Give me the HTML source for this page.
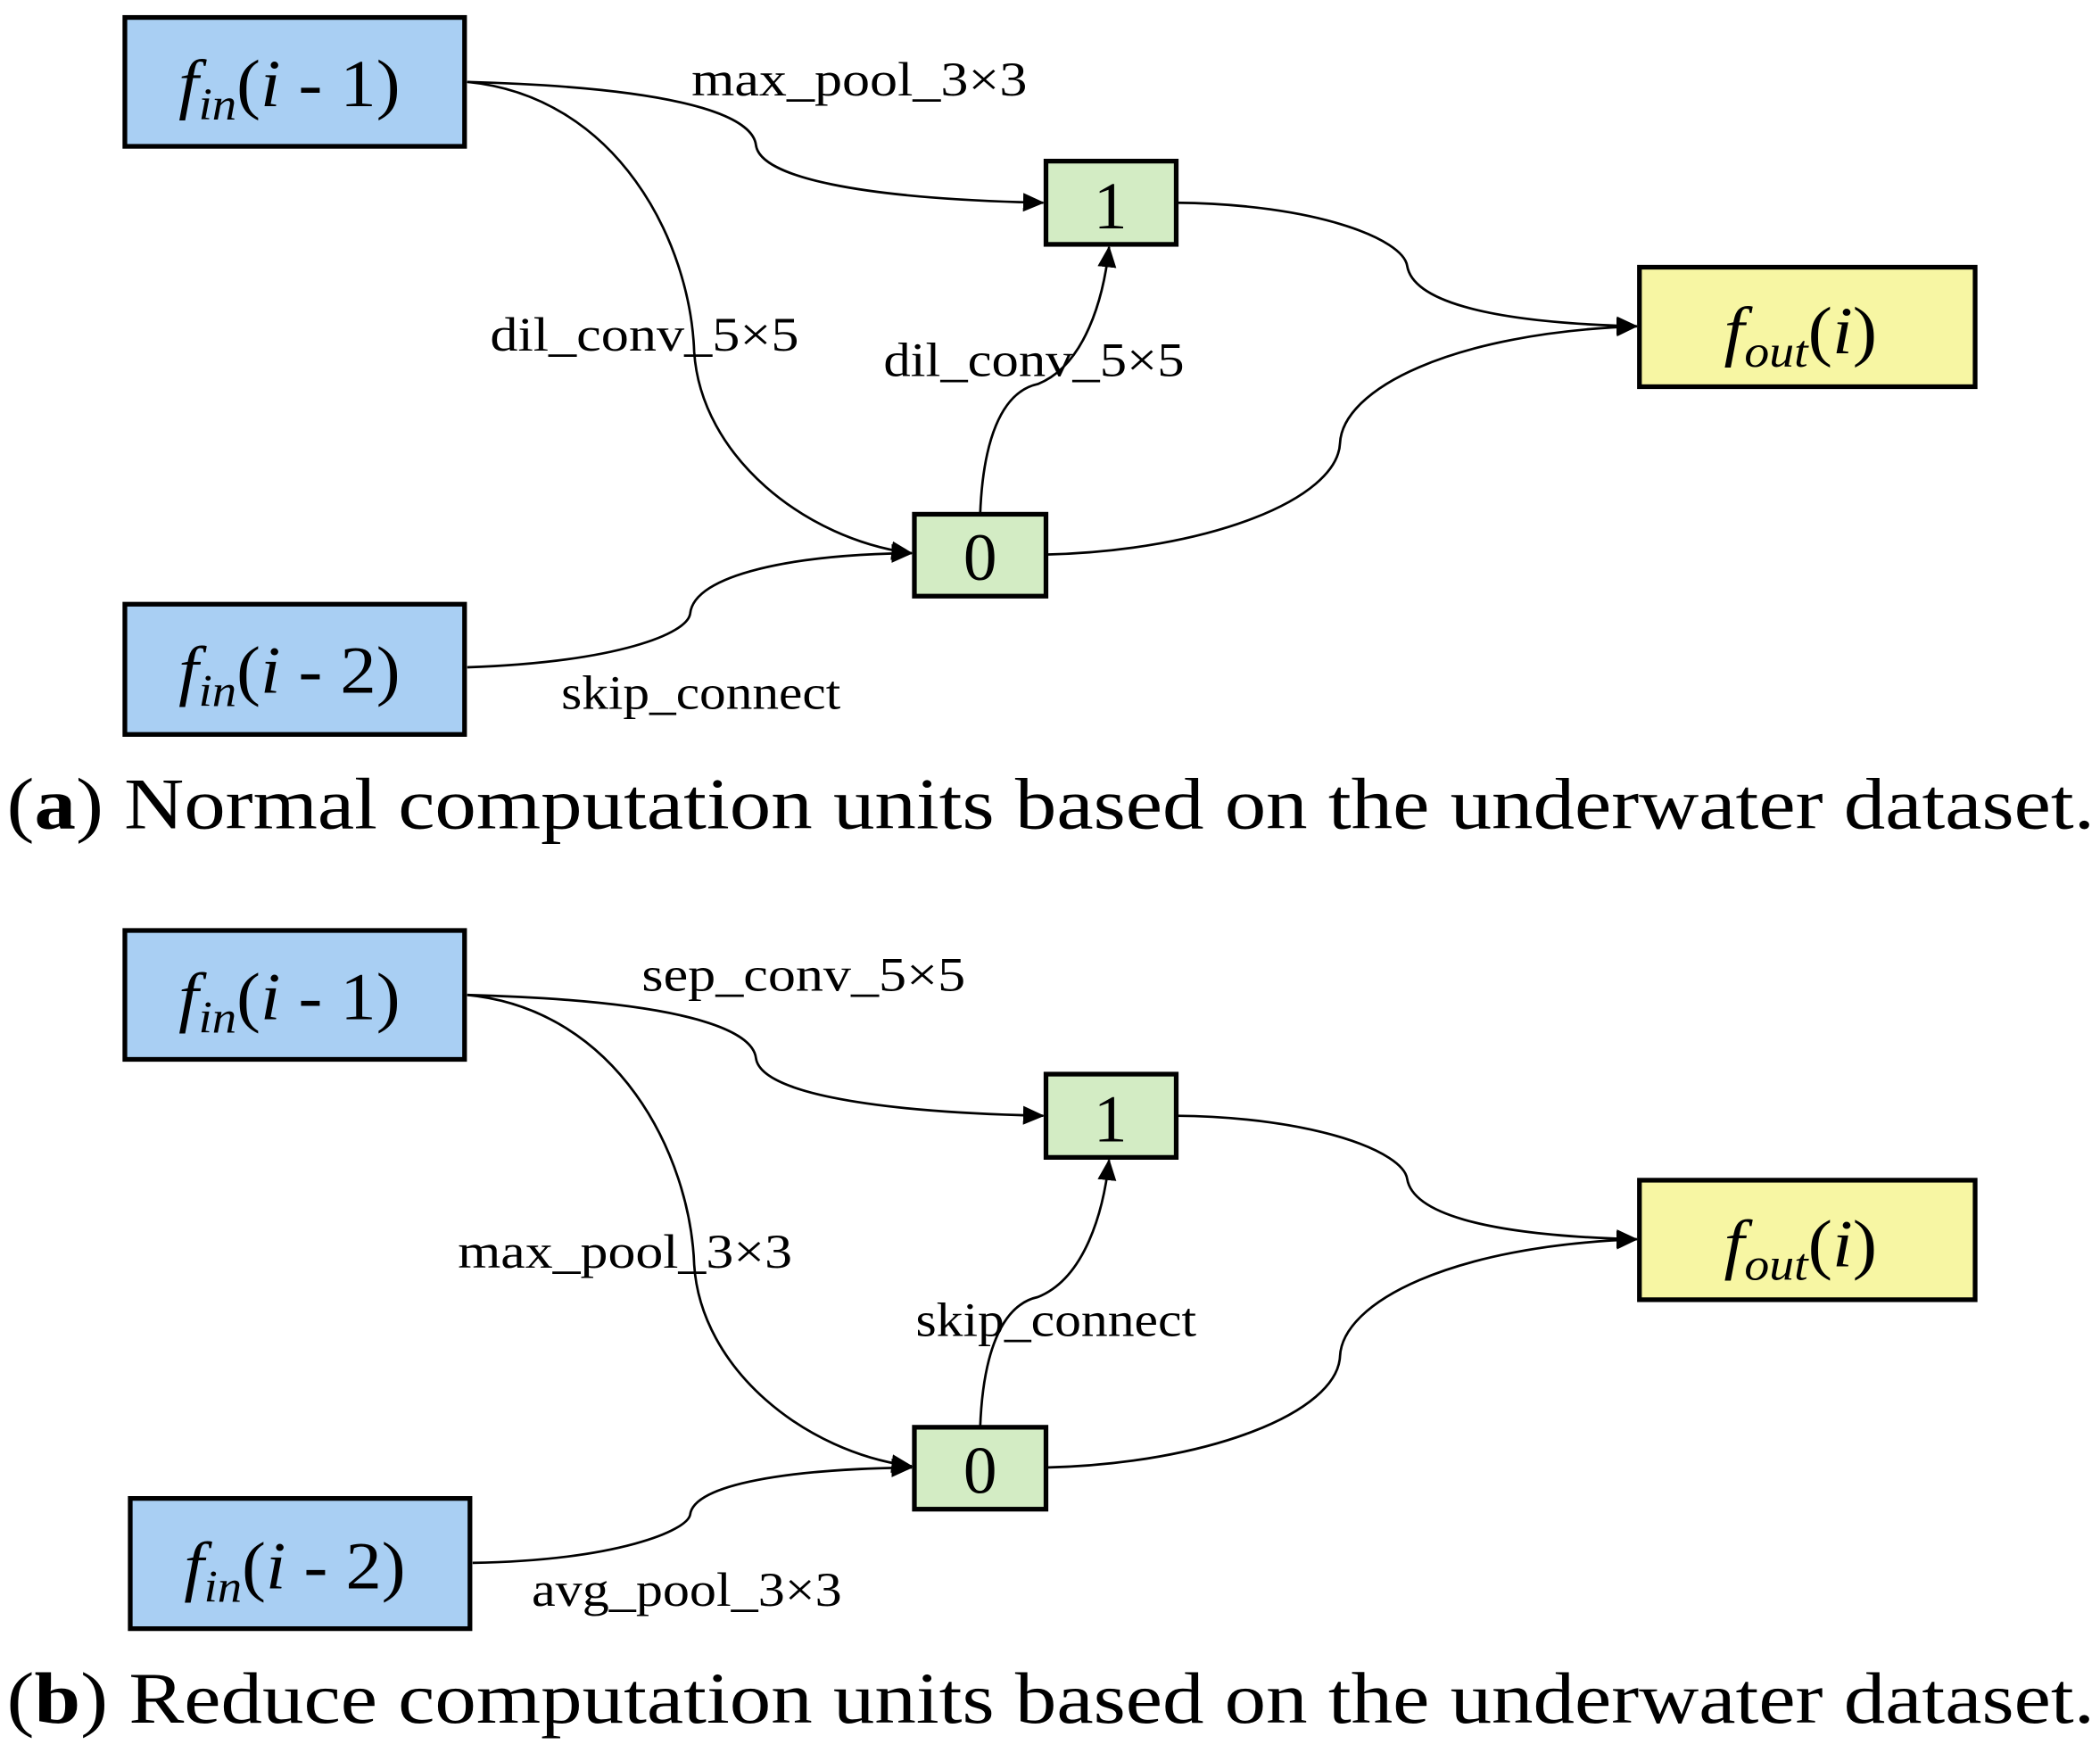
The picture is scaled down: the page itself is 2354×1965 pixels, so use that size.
<!DOCTYPE html>
<html><head><meta charset="utf-8"><style>
html,body{margin:0;padding:0;background:#fff;}
svg{display:block;}
text{font-family:"Liberation Serif","Times New Roman",serif;fill:#000;}
</style></head><body>
<svg width="2354" height="1965" viewBox="0 0 1564 1305.6" preserveAspectRatio="none" xmlns="http://www.w3.org/2000/svg">
<defs>
<marker id="ar" markerWidth="16" markerHeight="16" refX="15" refY="7" orient="auto" markerUnits="userSpaceOnUse" viewBox="0 0 16 14">
<path d="M0,0 L16,7 L0,14 z" fill="#000"/>
</marker>
<g id="diag">
<g fill="none" stroke="#000" stroke-width="1.8">
<path d="M348,61 C530,66 561,92 563,108 C566,132 640,148 777,151" marker-end="url(#ar)"/>
<path d="M348,61 C460,72 514,180 517,262 C522,340 600,402 679,412" marker-end="url(#ar)"/>
<path d="M876,151 C980,152 1045,178 1048,198 C1052,222 1100,240 1219,243" marker-end="url(#ar)"/>
<path d="M779,413 C900,410 996,372 998,330 C1000,290 1080,248 1219,243" marker-end="url(#ar)"/>
<path d="M730,383 C732,330 745,292 773,286 C808,272 822,222 826,184" marker-end="url(#ar)"/>
</g>
<g stroke="#000" stroke-width="3.5">
<rect x="93" y="13" width="253" height="96" fill="#a9cff3"/>
<rect x="779" y="120" width="97" height="62" fill="#d3ecc4"/>
<rect x="681" y="383" width="98" height="61" fill="#d3ecc4"/>
<rect x="1221" y="199" width="250" height="89" fill="#f7f6a3"/>
</g>
<text x="133" y="79" font-size="50" textLength="165" lengthAdjust="spacingAndGlyphs"><tspan font-style="italic">f</tspan><tspan font-style="italic" font-size="34" dy="10">in</tspan><tspan dy="-10">(</tspan><tspan font-style="italic">i</tspan><tspan> - 1)</tspan></text>
<text x="827" y="170" font-size="50" text-anchor="middle">1</text>
<text x="730" y="432" font-size="50" text-anchor="middle">0</text>
<text x="1284" y="263" font-size="50" textLength="114" lengthAdjust="spacingAndGlyphs"><tspan font-style="italic">f</tspan><tspan font-style="italic" font-size="34" dy="10">out</tspan><tspan dy="-10">(</tspan><tspan font-style="italic">i</tspan><tspan>)</tspan></text>
</g>
</defs>

<use href="#diag"/>
<g stroke="#000" stroke-width="1.8" fill="none">
<path d="M348,497 C460,493 512,472 514,457 C517,428 590,413 679,412" marker-end="url(#ar)"/>
</g>
<rect x="93" y="450" width="253" height="97" fill="#a9cff3" stroke="#000" stroke-width="3.5"/>
<text x="133" y="516" font-size="50" textLength="165" lengthAdjust="spacingAndGlyphs"><tspan font-style="italic">f</tspan><tspan font-style="italic" font-size="34" dy="10">in</tspan><tspan dy="-10">(</tspan><tspan font-style="italic">i</tspan><tspan> - 2)</tspan></text>
<text x="515" y="71" font-size="36" textLength="250" lengthAdjust="spacingAndGlyphs">max_pool_3×3</text>
<text x="365" y="261" font-size="36" textLength="230" lengthAdjust="spacingAndGlyphs">dil_conv_5×5</text>
<text x="658" y="280" font-size="36" textLength="224" lengthAdjust="spacingAndGlyphs">dil_conv_5×5</text>
<text x="418" y="528" font-size="36" textLength="208" lengthAdjust="spacingAndGlyphs">skip_connect</text>
<text x="5" y="617" font-size="54" textLength="1555" lengthAdjust="spacingAndGlyphs">(<tspan font-weight="bold">a</tspan>) Normal computation units based on the underwater dataset.</text>

<g transform="translate(0,680)"><use href="#diag"/></g>
<g stroke="#000" stroke-width="1.8" fill="none">
<path d="M352,1164 C460,1162 512,1140 514,1128 C517,1105 590,1094 679,1093" marker-end="url(#ar)"/>
</g>
<rect x="97" y="1116" width="253" height="97" fill="#a9cff3" stroke="#000" stroke-width="3.5"/>
<text x="137" y="1183" font-size="50" textLength="165" lengthAdjust="spacingAndGlyphs"><tspan font-style="italic">f</tspan><tspan font-style="italic" font-size="34" dy="10">in</tspan><tspan dy="-10">(</tspan><tspan font-style="italic">i</tspan><tspan> - 2)</tspan></text>
<text x="478" y="738" font-size="36" textLength="241" lengthAdjust="spacingAndGlyphs">sep_conv_5×5</text>
<text x="341" y="944" font-size="36" textLength="249" lengthAdjust="spacingAndGlyphs">max_pool_3×3</text>
<text x="682" y="995" font-size="36" textLength="209" lengthAdjust="spacingAndGlyphs">skip_connect</text>
<text x="396" y="1196" font-size="36" textLength="231" lengthAdjust="spacingAndGlyphs">avg_pool_3×3</text>
<text x="5" y="1283" font-size="54" textLength="1555" lengthAdjust="spacingAndGlyphs">(<tspan font-weight="bold">b</tspan>) Reduce computation units based on the underwater dataset.</text>
</svg>
</body></html>
